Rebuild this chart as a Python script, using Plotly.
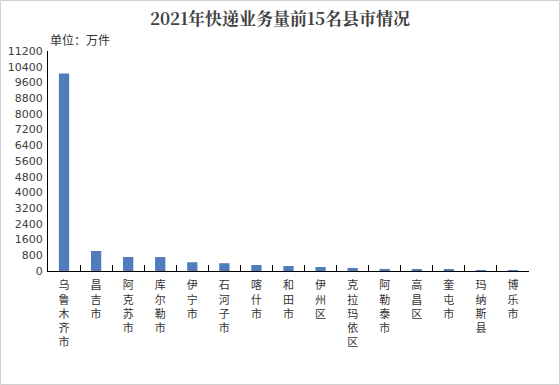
import plotly.graph_objects as go

categories = ["乌鲁木齐市", "昌吉市", "阿克苏市", "库尔勒市", "伊宁市", "石河子市", "喀什市",
              "和田市", "伊州区", "克拉玛依区", "阿勒泰市", "高昌区", "奎屯市", "玛纳斯县", "博乐市"]
values = [10050, 1020, 715, 710, 445, 395, 305, 255, 205, 155, 105, 100, 55, 50, 50]
tick_vals = list(range(0, 11201, 800))
tick_text = [str(v) for v in tick_vals]

labels = ["<br>".join(list(c)) for c in categories]

fig = go.Figure(go.Bar(
    x=labels, y=values, width=0.32,
    marker=dict(color="#4f7cba", line=dict(width=0)),
))

fig.update_layout(
    width=560, height=385,
    margin=dict(l=48, r=31, t=51, b=114, autoexpand=False),
    paper_bgcolor="white", plot_bgcolor="white",
    showlegend=False,
    title=dict(text="<b>2021年快递业务量前15名县市情况</b>", x=0.5, xanchor="center",
               y=1 - 19 / 385, yanchor="middle",
               font=dict(family="Noto Serif CJK SC, Noto Sans CJK SC", size=17, color="#404040")),
    font=dict(family="Noto Sans CJK SC", color="#333333"),
)
fig.update_xaxes(
    type="category", showline=True, linecolor="black", linewidth=1, automargin=False,
    ticks="inside", ticklen=6, tickwidth=1, tickcolor="black", tickson="boundaries",
    tickfont=dict(size=11, color="#333333"), tickangle=0, showgrid=False,
    ticklabelstandoff=4,
)
fig.update_yaxes(
    range=[0, 11200], tickvals=tick_vals, ticktext=tick_text, automargin=False,
    showline=True, linecolor="black", linewidth=1,
    showgrid=False, zeroline=False, ticks="", ticklabelstandoff=2,
    tickfont=dict(family="DejaVu Sans", size=11, color="#404040"),
)
fig.add_annotation(text="单位：万件", xref="paper", yref="paper", x=0, y=1,
                   xanchor="left", yanchor="bottom", yshift=1, showarrow=False,
                   font=dict(size=12, color="#333333"))
fig.add_shape(type="rect", xref="paper", yref="paper",
              x0=-47.5 / 481, x1=1 + 30.5 / 481, y0=-113.5 / 220, y1=1 + 50.5 / 220,
              line=dict(color="#d0d0d0", width=1))
fig.write_html("out.html", config={"displayModeBar": False},
               post_script="document.body.style.margin='0';")
